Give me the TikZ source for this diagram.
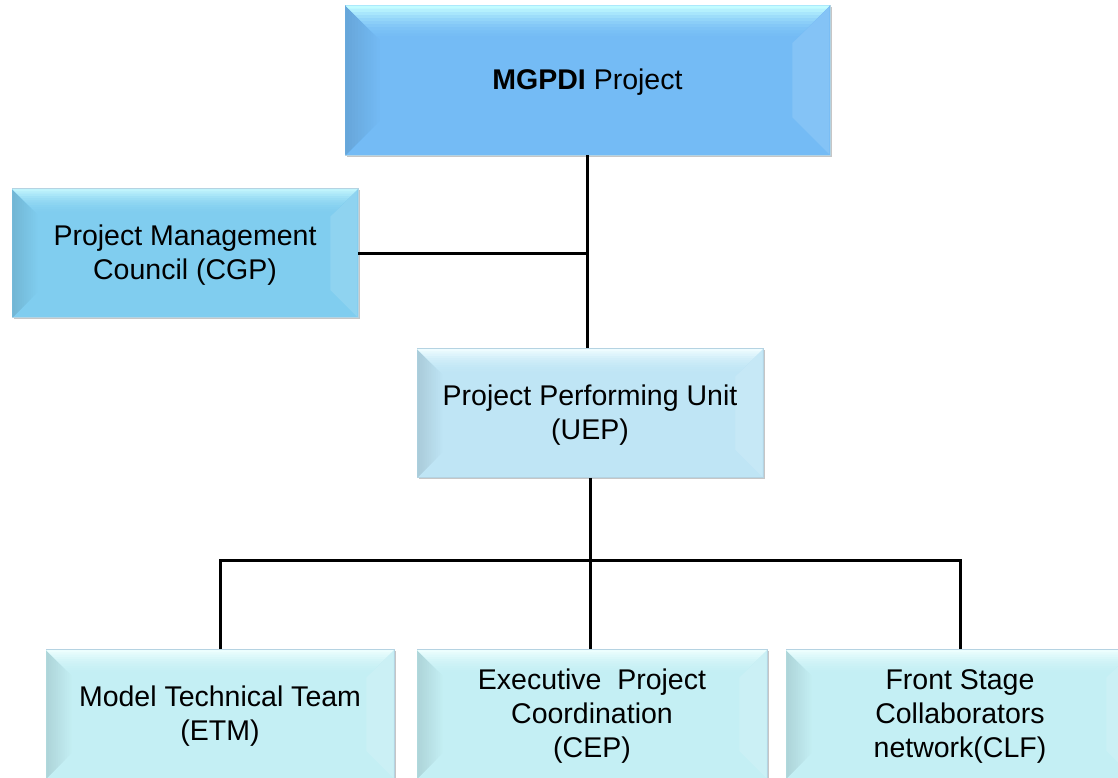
\documentclass[tikz,border=0pt]{standalone}
\usepackage{fontspec}
\setmainfont{Liberation Sans}
\usepackage{xcolor}
\usepackage{tikz}
\usetikzlibrary{calc,shadows}
\definecolor{topblue}{HTML}{74BBF5}
\definecolor{tophi}{HTML}{C2FCFF}
\definecolor{skyblue}{HTML}{80CDEF}
\definecolor{skyhi}{HTML}{C0F4FC}
\definecolor{paleblue}{HTML}{BFE5F5}
\definecolor{palehi}{HTML}{EEFCFF}
\definecolor{palecyan}{HTML}{C4EFF4}
\definecolor{cyanhi}{HTML}{ECFEFE}
\definecolor{rim}{HTML}{B5D3E2}
\tikzset{
  link/.style={line width=3pt, draw=black},
  tile/.style={rectangle, fill=#1, draw=rim, line width=0.8pt,
    drop shadow={shadow xshift=1.5pt, shadow yshift=-1.5pt, opacity=.45, fill=gray}},
  label/.style={align=center, font=\fontsize{28.5}{34}\selectfont, yshift=-2pt},
  headbox/.style={tile=topblue, minimum width=485, minimum height=150},
  sidebox/.style={tile=skyblue, minimum width=346, minimum height=129},
  unitbox/.style={tile=paleblue, minimum width=346, minimum height=129},
  teambox/.style={tile=palecyan, minimum width=348, minimum height=129}
}
% bevel facets over a tile: #1 node, #2 face colour, #3 highlight, #4 depth
\newcommand{\Bevel}[4]{%
  \coordinate (nw) at ($(#1.north west)+(1,1)$);
  \coordinate (ne) at ($(#1.north east)+(-1,1)$);
  \coordinate (sw) at ($(#1.south west)+(1,-1)$);
  \coordinate (se) at ($(#1.south east)+(-1,-1)$);
  % left facet, darker towards the edge
  \foreach \k [evaluate=\k as \w using {#4*(12-\k)/12},
               evaluate=\k as \lp using {int(100-\k)}] in {0,...,11}
    \fill[#2!\lp!black] (nw) -- ($(nw)+(\w,\w)$) -- ($(sw)+(\w,-\w)$) -- (sw) -- cycle;
  % right facet, a little lighter
  \fill[white, opacity=.12] (ne) -- ($(ne)+(-#4,#4)$) -- ($(se)+(-#4,-#4)$) -- (se) -- cycle;
  % top facet, highlight fading down into the face
  \foreach \k [evaluate=\k as \w using {#4*(12-\k)/12},
               evaluate=\k as \hp using {int(100*(\k/11)^2)}] in {0,...,11}
    \fill[#3!\hp!#2] (nw) -- (ne) -- ($(ne)+(-\w,\w)$) -- ($(nw)+(\w,\w)$) -- cycle;
}

\begin{document}
\begin{tikzpicture}[x=1pt, y=-1pt]
  \path[use as bounding box, clip] (0,0) rectangle (1118,777);
  % tiles first, facets next, labels on top
  \node[headbox] (mgpdi) at (587.5,80) {};
  \node[sidebox] (cgp) at (185,253) {};
  \node[unitbox] (uep) at (590,413) {};
  \node[teambox] (etm) at (220,714) {};
  \node[teambox, minimum width=350] (cep) at (592,714) {};
  \node[teambox] (clf) at (960,714) {};
  \Bevel{mgpdi}{topblue}{tophi}{37}
  \Bevel{cgp}{skyblue}{skyhi}{27}
  \Bevel{uep}{paleblue}{palehi}{27}
  \Bevel{etm}{palecyan}{cyanhi}{27}
  \Bevel{cep}{palecyan}{cyanhi}{27}
  \Bevel{clf}{palecyan}{cyanhi}{27}
  \node[label] at (mgpdi) {\textbf{MGPDI} Project};
  \node[label] at (cgp) {Project Management\\Council (CGP)};
  \node[label] at (uep) {Project Performing Unit\\(UEP)};
  \node[label] at (etm) {Model Technical Team\\(ETM)};
  \node[label] at (cep) {Executive\ \ Project\\Coordination\\(CEP)};
  \node[label] at (clf) {Front Stage\\Collaborators\\network(CLF)};
  \coordinate (bus) at (590,560);

  \draw[link] (mgpdi.south) -- (mgpdi.south |- uep.north);
  \draw[link] (cgp.east) -- (cgp.east -| mgpdi.south);
  \draw[link] (uep.south) -- (uep.south |- cep.north);
  \draw[link] (etm.north) -- (etm.north |- bus) -- (clf.north |- bus) -- (clf.north);
\end{tikzpicture}
\end{document}
